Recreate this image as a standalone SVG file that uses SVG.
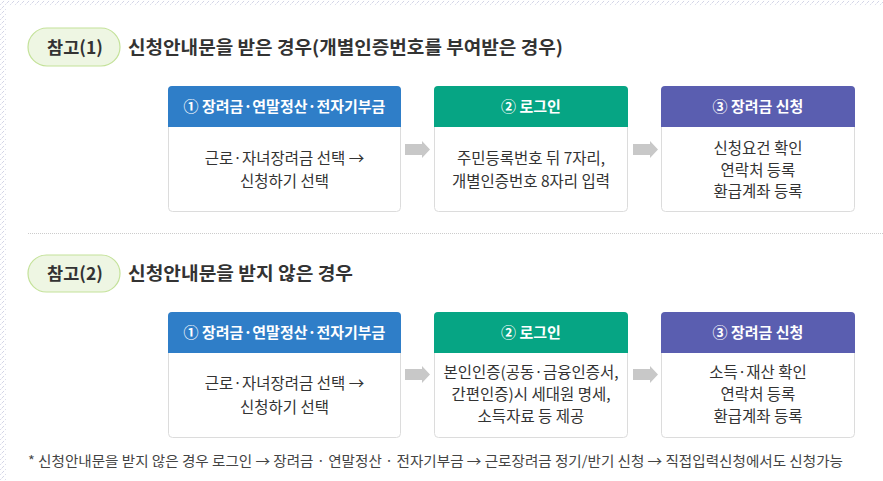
<svg xmlns="http://www.w3.org/2000/svg" width="883" height="481" viewBox="0 0 883 481">
<style>
  text { font-family: "Noto Sans CJK KR", "Noto Sans", sans-serif; }
  .pill { fill: #eef6e3; stroke: #c4e29a; stroke-width: 1.2; }
  .pilltxt { font-size: 17.5px; font-weight: bold; fill: #333; text-anchor: middle; }
  .title { font-size: 18px; font-weight: bold; fill: #333; }
  .box { fill: #fff; stroke: #dcdcdc; stroke-width: 1; }
  .hdr { font-size: 15px; font-weight: bold; fill: #fff; text-anchor: middle; }
  .body { font-size: 15.5px; fill: #333; text-anchor: middle; }
  .arrow { fill: #c8c8c8; }
  .note { font-size: 13.5px; fill: #444; }
</style>
<defs>
  <pattern id="hatch" width="5" height="5" patternUnits="userSpaceOnUse">
    <path d="M0.5,4.5 L4.5,0.5" stroke="#b9bdd8" stroke-width="1" stroke-dasharray="1,1"/>
  </pattern>
  <path id="arr" d="M0,3 H17 V0 L25,8.5 L17,17 V14 H0 Z"/>
</defs>
<rect width="883" height="481" fill="#fff"/>
<rect x="0" y="0" width="883" height="6" fill="url(#hatch)"/>
<rect x="0" y="6" width="6" height="475" fill="url(#hatch)"/>

<g id="section1-header">
  <rect class="pill" x="28" y="28" width="92" height="38" rx="19"/>
  <text class="pilltxt" x="75" y="53.5">참고(1)</text>
  <text class="title" x="128" y="53.5" textLength="435" lengthAdjust="spacingAndGlyphs">신청안내문을 받은 경우(개별인증번호를 부여받은 경우)</text>
</g>

<g id="s1-step1">
  <rect class="box" x="168.5" y="86.5" width="232" height="125" rx="4"/>
  <path d="M168,127 V90 a4,4 0 0 1 4,-4 H397 a4,4 0 0 1 4,4 V127 Z" fill="#2f7ec8"/>
  <text class="hdr" x="284.5" y="111.5">① 장려금·연말정산·전자기부금</text>
  <text class="body" x="284.5" y="163.5">근로·자녀장려금 선택 →</text>
  <text class="body" x="284.5" y="186.5">신청하기 선택</text>
</g>
<g id="s1-step2">
  <rect class="box" x="434.5" y="86.5" width="193" height="125" rx="4"/>
  <path d="M434,127 V90 a4,4 0 0 1 4,-4 H624 a4,4 0 0 1 4,4 V127 Z" fill="#06a584"/>
  <text class="hdr" x="531" y="111.5">② 로그인</text>
  <text class="body" x="531" y="163.5">주민등록번호 뒤 7자리,</text>
  <text class="body" x="531" y="186.5">개별인증번호 8자리 입력</text>
</g>
<g id="s1-step3">
  <rect class="box" x="661.5" y="86.5" width="193" height="125" rx="4"/>
  <path d="M661,127 V90 a4,4 0 0 1 4,-4 H851 a4,4 0 0 1 4,4 V127 Z" fill="#5a5eb0"/>
  <text class="hdr" x="758" y="111.5">③ 장려금 신청</text>
  <text class="body" x="758" y="153.5">신청요건 확인</text>
  <text class="body" x="758" y="175.5">연락처 등록</text>
  <text class="body" x="758" y="197">환급계좌 등록</text>
</g>

<line x1="28" y1="233.5" x2="883" y2="233.5" stroke="#cccccc" stroke-width="1" stroke-dasharray="1,1"/>

<g id="section2-header">
  <rect class="pill" x="28" y="255" width="92" height="37" rx="18.5"/>
  <text class="pilltxt" x="75" y="280">참고(2)</text>
  <text class="title" x="128" y="279.5" textLength="225" lengthAdjust="spacingAndGlyphs">신청안내문을 받지 않은 경우</text>
</g>

<g id="s2-step1">
  <rect class="box" x="168.5" y="312.5" width="232" height="125" rx="4"/>
  <path d="M168,353 V316 a4,4 0 0 1 4,-4 H397 a4,4 0 0 1 4,4 V353 Z" fill="#2f7ec8"/>
  <text class="hdr" x="284.5" y="337.5">① 장려금·연말정산·전자기부금</text>
  <text class="body" x="284.5" y="388.5">근로·자녀장려금 선택 →</text>
  <text class="body" x="284.5" y="412.5">신청하기 선택</text>
</g>
<g id="s2-step2">
  <rect class="box" x="434.5" y="312.5" width="193" height="125" rx="4"/>
  <path d="M434,353 V316 a4,4 0 0 1 4,-4 H624 a4,4 0 0 1 4,4 V353 Z" fill="#06a584"/>
  <text class="hdr" x="531" y="337.5">② 로그인</text>
  <text class="body" x="531" y="377.5">본인인증(공동·금융인증서,</text>
  <text class="body" x="531" y="399.5">간편인증)시 세대원 명세,</text>
  <text class="body" x="531" y="421.5">소득자료 등 제공</text>
</g>
<g id="s2-step3">
  <rect class="box" x="661.5" y="312.5" width="193" height="125" rx="4"/>
  <path d="M661,353 V316 a4,4 0 0 1 4,-4 H851 a4,4 0 0 1 4,4 V353 Z" fill="#5a5eb0"/>
  <text class="hdr" x="758" y="337.5">③ 장려금 신청</text>
  <text class="body" x="758" y="377.5">소득·재산 확인</text>
  <text class="body" x="758" y="399.5">연락처 등록</text>
  <text class="body" x="758" y="421.5">환급계좌 등록</text>
</g>

<g id="connectors">
  <use href="#arr" class="arrow" x="405" y="141"/>
  <use href="#arr" class="arrow" x="633" y="141"/>
  <use href="#arr" class="arrow" x="405" y="366"/>
  <use href="#arr" class="arrow" x="633" y="366"/>
</g>

<text class="note" x="28" y="466" textLength="815" lengthAdjust="spacingAndGlyphs">* 신청안내문을 받지 않은 경우 로그인 → 장려금 · 연말정산 · 전자기부금 → 근로장려금 정기/반기 신청 → 직접입력신청에서도 신청가능</text>
</svg>
